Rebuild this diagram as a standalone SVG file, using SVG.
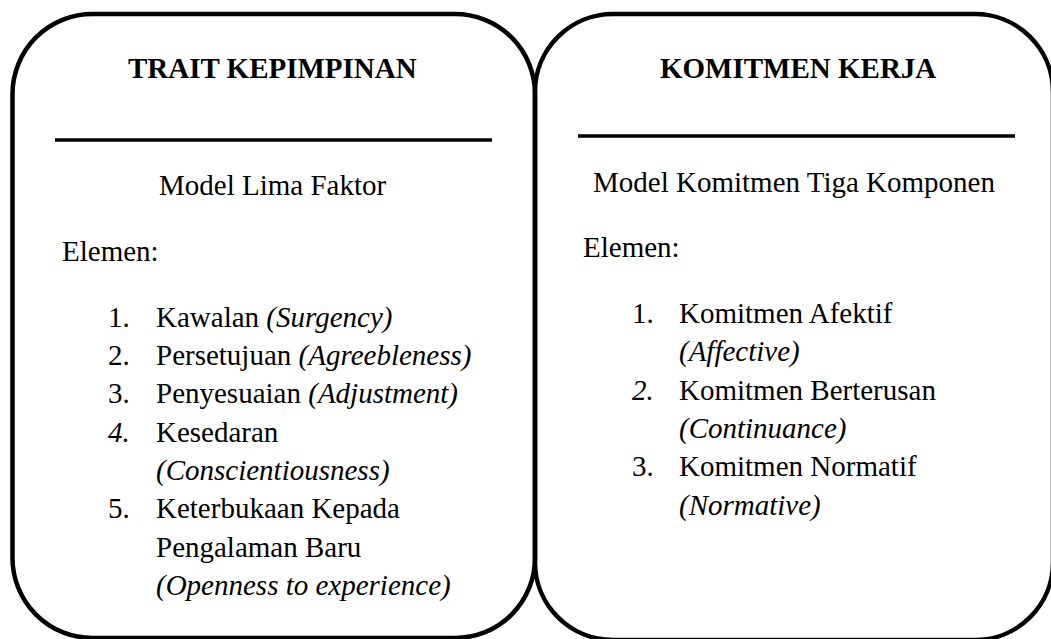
<svg xmlns="http://www.w3.org/2000/svg" width="1051" height="639" viewBox="0 0 1051 639">
<style>
.box{fill:none;stroke:#000;stroke-width:4.5}
.rule{stroke:#000;stroke-width:3.6}
.title{font-weight:bold}
.it{font-style:italic}
</style>
<rect x="0" y="0" width="1051" height="639" fill="#fff"/>
<g id="trait-kepimpinan" font-family="Liberation Serif" font-size="29" fill="#000">
<rect class="box" x="12.5" y="14" width="522.5" height="624" rx="80" ry="80"/>
<text class="title" x="128" y="78">TRAIT KEPIMPINAN</text>
<line class="rule" x1="55" y1="140" x2="492" y2="140"/>
<text x="159" y="195">Model Lima Faktor</text>
<text x="62" y="261">Elemen:</text>
<text x="108" y="327">1.</text>
<text x="156" y="327">Kawalan <tspan class="it">(Surgency)</tspan></text>
<text x="108" y="365">2.</text>
<text x="156" y="365">Persetujuan <tspan class="it">(Agreebleness)</tspan></text>
<text x="108" y="403">3.</text>
<text x="156" y="403">Penyesuaian <tspan class="it">(Adjustment)</tspan></text>
<text class="it" x="108" y="442">4.</text>
<text x="156" y="442">Kesedaran</text>
<text class="it" x="156" y="480">(Conscientiousness)</text>
<text x="108" y="518">5.</text>
<text x="156" y="518">Keterbukaan Kepada</text>
<text x="156" y="557">Pengalaman Baru</text>
<text class="it" x="156" y="595">(Openness to experience)</text>
</g>
<g id="komitmen-kerja" font-family="Liberation Serif" font-size="29" fill="#000">
<rect class="box" x="535" y="14" width="518" height="626" rx="78" ry="78"/>
<text class="title" x="660" y="78">KOMITMEN KERJA</text>
<line class="rule" x1="578" y1="136" x2="1015" y2="136"/>
<text x="593" y="192">Model Komitmen Tiga Komponen</text>
<text x="583" y="257">Elemen:</text>
<text x="632" y="323">1.</text>
<text x="679" y="323">Komitmen Afektif</text>
<text class="it" x="679" y="361">(Affective)</text>
<text class="it" x="632" y="400">2.</text>
<text x="679" y="400">Komitmen Berterusan</text>
<text class="it" x="679" y="438">(Continuance)</text>
<text x="632" y="476">3.</text>
<text x="679" y="476">Komitmen Normatif</text>
<text class="it" x="679" y="515">(Normative)</text>
</g>
<g id="connectors"></g>
</svg>
